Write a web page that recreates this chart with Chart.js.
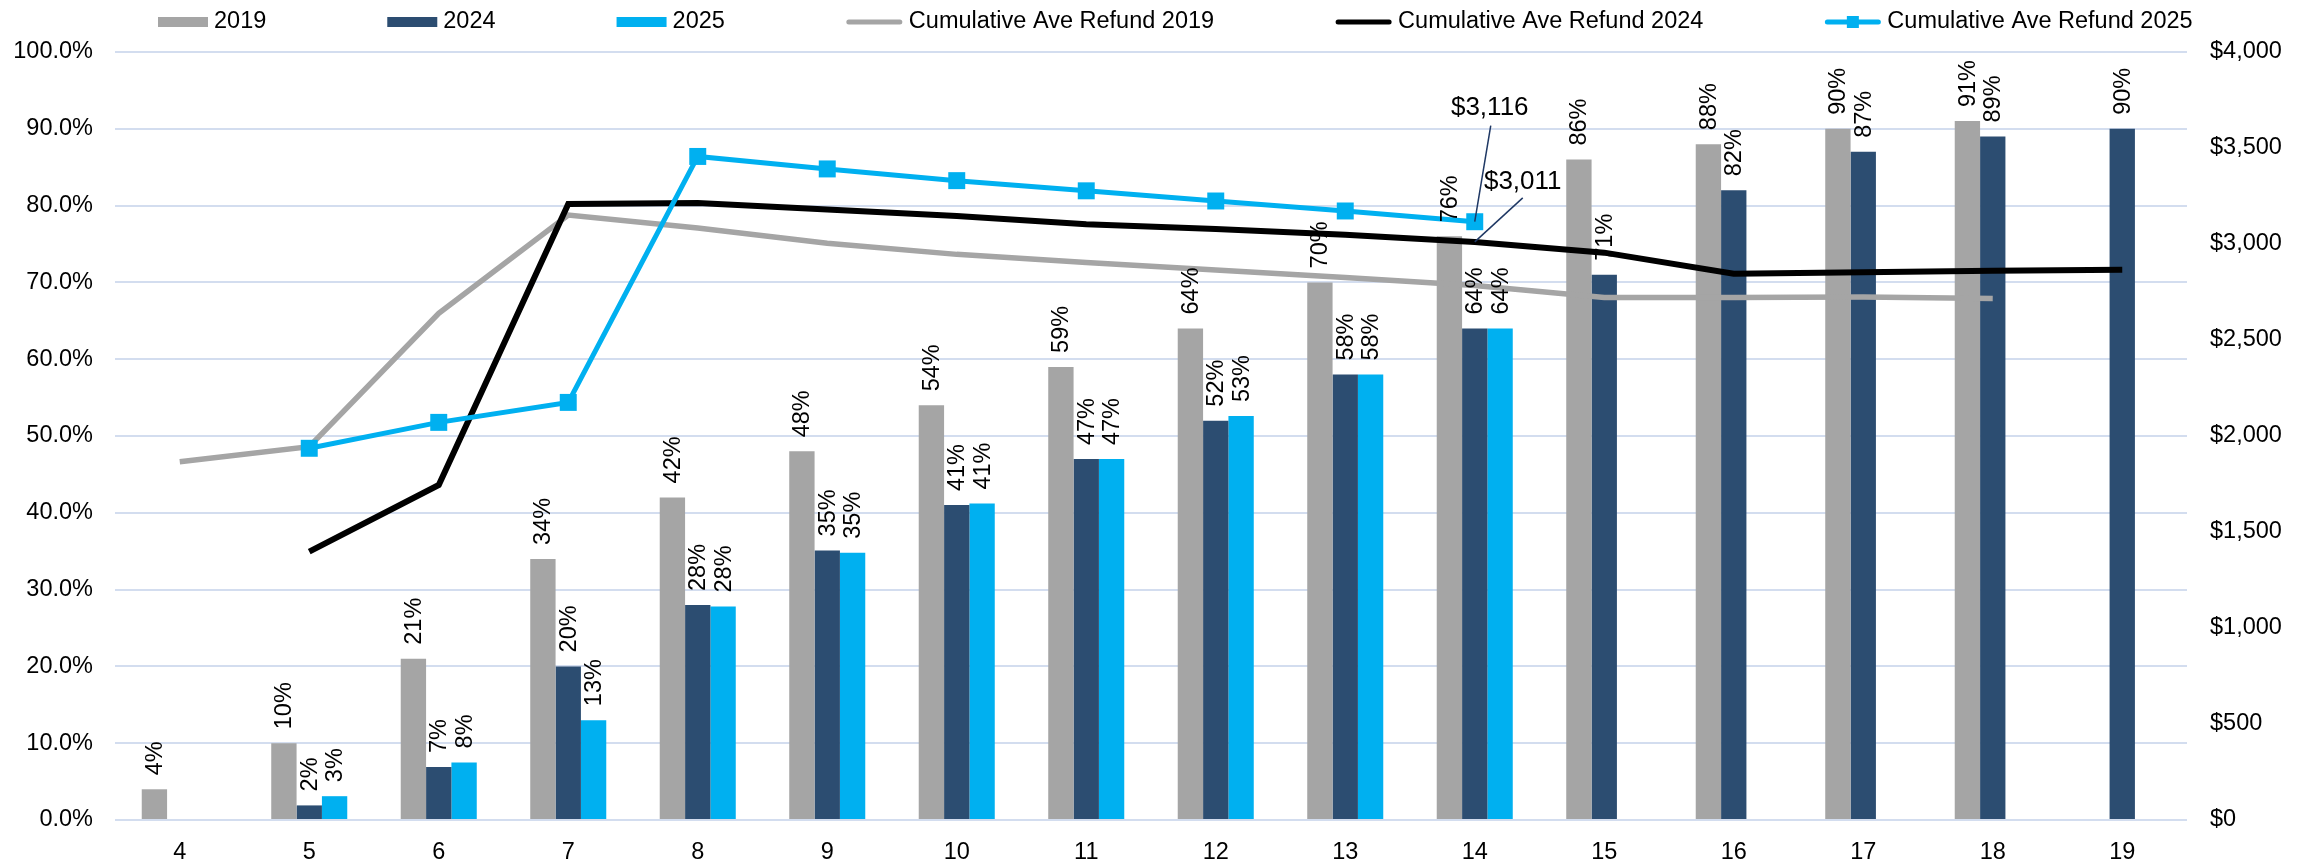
<!DOCTYPE html>
<html>
<head>
<meta charset="utf-8">
<title>Refund progress by week</title>
<script src="https://cdn.jsdelivr.net/npm/chart.js@4.4.1/dist/chart.umd.min.js"></script>
<style>
  html, body { margin: 0; padding: 0; background: #fff; }
  #wrap { width: 2310px; height: 863px; }
</style>
</head>
<body>
<div id="wrap"><canvas id="refundChart" width="2310" height="863"></canvas></div>
<script>
// week numbers on the x axis
const weeks = ["4", "5", "6", "7", "8", "9", "10", "11", "12", "13", "14", "15", "16", "17", "18", "19"];

// share of returns processed (%), left axis
const pct2019 = [4, 10, 21, 34, 42, 48, 54, 59, 64, 70, 76, 86, 88, 90, 91, null];
const pct2024 = [null, 1.9, 6.9, 20, 28, 35.1, 41, 47, 52, 58, 64, 71, 82, 87, 89, 90];
const pct2025 = [null, 3.1, 7.5, 13, 27.8, 34.8, 41.2, 47, 52.6, 58, 64, null, null, null, null, null];

// cumulative average refund ($), right axis
const refund2019 = [1866, 1944, 2639, 3151, 3083, 3004, 2946, 2904, 2864, 2825, 2784, 2722, 2722, 2724, 2716, null];
const refund2024 = [null, 1398, 1745, 3208, 3213, 3180, 3146, 3103, 3078, 3048, 3011, 2955, 2845, 2853, 2861, 2866];
const refund2025 = [null, 1936, 2071, 2175, 3456, 3391, 3330, 3277, 3224, 3172, 3116, null, null, null, null, null];

// axis ticks
const pctTicks = [0, 10, 20, 30, 40, 50, 60, 70, 80, 90, 100];
const dollarTicks = [0, 500, 1000, 1500, 2000, 2500, 3000, 3500, 4000];

// which points get a "$" callout (week index)
const calloutWeek = "14";

const FONT = "'Liberation Sans', Arial, sans-serif";
const GRAY = "#a5a5a5";
const NAVY = "#2c4d71";
const CYAN = "#00b0f0";

const money = v => "$" + Math.round(v).toLocaleString("en-US");

// rotated % labels above each bar
const barLabels = {
  id: "barLabels",
  afterDatasetsDraw(chart) {
    const ctx = chart.ctx;
    ctx.save();
    ctx.font = "23.5px " + FONT;
    ctx.fillStyle = "#000";
    ctx.textAlign = "left";
    ctx.textBaseline = "middle";
    chart.data.datasets.forEach((ds, di) => {
      if (ds.type !== "bar") return;
      chart.getDatasetMeta(di).data.forEach((el, i) => {
        const v = ds.data[i];
        if (v == null) return;
        ctx.save();
        ctx.translate(el.x + 1, el.y - 14);
        ctx.rotate(-Math.PI / 2);
        ctx.fillText(Math.round(v) + "%", 0, 0);
        ctx.restore();
      });
    });
    ctx.restore();
  }
};

// the two dollar callouts with leader lines
const callouts = {
  id: "callouts",
  afterDatasetsDraw(chart) {
    const ctx = chart.ctx;
    const idx = weeks.indexOf(calloutWeek);
    const items = [
      { ds: 5, dx: 15, dy: -114, lx: 16, ly: -96 },
      { ds: 4, dx: 48, dy: -60, lx: 48, ly: -44 }
    ];
    ctx.save();
    ctx.font = "26px " + FONT;
    ctx.fillStyle = "#000";
    ctx.textAlign = "center";
    ctx.textBaseline = "middle";
    ctx.strokeStyle = "#1f3864";
    ctx.lineWidth = 1.5;
    items.forEach(it => {
      const pt = chart.getDatasetMeta(it.ds).data[idx];
      const v = chart.data.datasets[it.ds].data[idx];
      ctx.beginPath();
      ctx.moveTo(pt.x + it.lx, pt.y + it.ly);
      ctx.lineTo(pt.x, pt.y);
      ctx.stroke();
      ctx.fillText(money(v), pt.x + it.dx, pt.y + it.dy);
    });
    ctx.restore();
  }
};

// legend row across the top
const topLegend = {
  id: "topLegend",
  afterDraw(chart) {
    const ctx = chart.ctx;
    const y = 22;
    let x = 158;
    ctx.save();
    ctx.font = "23.5px " + FONT;
    ctx.textBaseline = "middle";
    ctx.textAlign = "left";
    chart.data.datasets.forEach(ds => {
      let w;
      if (ds.type === "bar") {
        w = 50;
        ctx.fillStyle = ds.backgroundColor;
        ctx.fillRect(x, y - 5, w, 10);
      } else {
        w = 57;
        ctx.strokeStyle = ds.borderColor;
        ctx.lineWidth = 5;
        ctx.lineCap = "round";
        ctx.beginPath();
        ctx.moveTo(x + 3, y);
        ctx.lineTo(x + w - 3, y);
        ctx.stroke();
        if (ds.pointRadius > 0) {
          ctx.fillStyle = ds.borderColor;
          ctx.fillRect(x + w / 2 - 6, y - 6, 12, 12);
        }
      }
      ctx.fillStyle = "#000";
      const tx = x + w + 6;
      ctx.fillText(ds.label, tx, y);
      x = tx + ctx.measureText(ds.label).width + 121;
    });
    ctx.restore();
  }
};

function renderRefundChart() {
  const ctx = document.getElementById("refundChart").getContext("2d");

  new Chart(ctx, {
    data: {
      labels: weeks,
      datasets: [
        { type: "bar", label: "2019", data: pct2019, backgroundColor: GRAY, yAxisID: "y", order: 4 },
        { type: "bar", label: "2024", data: pct2024, backgroundColor: NAVY, yAxisID: "y", order: 4 },
        { type: "bar", label: "2025", data: pct2025, backgroundColor: CYAN, yAxisID: "y", order: 4 },
        { type: "line", label: "Cumulative Ave Refund 2019", data: refund2019, borderColor: GRAY,
          borderWidth: 5.5, pointRadius: 0, yAxisID: "y2", order: 3 },
        { type: "line", label: "Cumulative Ave Refund 2024", data: refund2024, borderColor: "#000",
          borderWidth: 6, pointRadius: 0, yAxisID: "y2", order: 2 },
        { type: "line", label: "Cumulative Ave Refund 2025", data: refund2025, borderColor: CYAN,
          borderWidth: 5, pointRadius: 12, pointStyle: "rect", pointBackgroundColor: CYAN,
          pointBorderWidth: 0, yAxisID: "y2", order: 1 }
      ]
    },
    options: {
      responsive: false,
      animation: false,
      devicePixelRatio: 1,
      layout: { padding: { top: 52, left: 0, right: 0, bottom: 0 } },
      datasets: {
        bar: { categoryPercentage: 0.587, barPercentage: 1 }
      },
      plugins: {
        legend: { display: false },
        tooltip: { enabled: false }
      },
      scales: {
        x: {
          grid: { display: false },
          border: { display: false },
          ticks: { color: "#000", font: { family: FONT, size: 23.5 }, padding: 10, maxRotation: 0 },
          afterFit: s => { s.height = 43; }
        },
        y: {
          position: "left",
          min: pctTicks[0],
          max: pctTicks[pctTicks.length - 1],
          afterBuildTicks: s => { s.ticks = pctTicks.map(v => ({ value: v })); },
          grid: { color: "#d3ddef", lineWidth: 2, drawTicks: false },
          border: { display: false },
          ticks: { color: "#000", font: { family: FONT, size: 23.5 }, padding: 22,
                   callback: v => v.toFixed(1) + "%" },
          afterFit: s => { s.width = 115; }
        },
        y2: {
          position: "right",
          min: dollarTicks[0],
          max: dollarTicks[dollarTicks.length - 1],
          afterBuildTicks: s => { s.ticks = dollarTicks.map(v => ({ value: v })); },
          grid: { display: false, drawTicks: false },
          border: { display: false },
          ticks: { color: "#000", font: { family: FONT, size: 23.5 }, padding: 23, callback: v => money(v) },
          afterFit: s => { s.width = 123; }
        }
      }
    },
    plugins: [barLabels, callouts, topLegend]
  });
}

document.addEventListener("DOMContentLoaded", renderRefundChart);
</script>
</body>
</html>
